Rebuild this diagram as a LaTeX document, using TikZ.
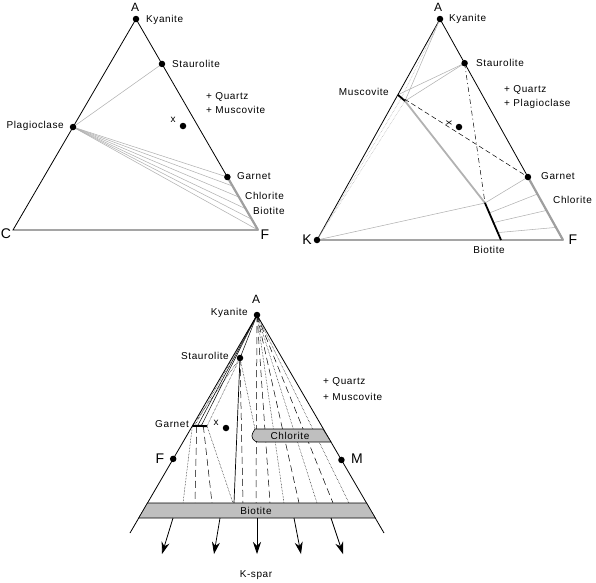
\documentclass[tikz,border=0pt]{standalone}
\usepackage{fontspec}
\setmainfont{Liberation Sans}[LetterSpace=6]
\usetikzlibrary{arrows.meta, calc}

\begin{document}
\begin{tikzpicture}[
  x=1pt, y=-1pt,
  font=\fontsize{10}{11}\selectfont,
  edgeLine/.style={draw, line width=0.8pt},
  tieLine/.style={draw, gray!60, line width=0.55pt},
  fanLine/.style={draw, line width=0.5pt},
  longDash/.style={dash pattern=on 7pt off 4pt},
  thickGray/.style={draw, gray!75, line width=2.2pt},
  thickBlack/.style={draw, line width=1.8pt},
  phaseDot/.style={circle, fill, inner sep=0pt, minimum size=6.5pt},
  cornerLabel/.style={font=\fontsize{14}{14}\selectfont, inner sep=1pt},
  mineralLabel/.style={inner sep=1pt},
  bandBox/.style={draw, fill=gray!50, line width=0.6pt},
  ksparArrow/.style={draw, line width=0.8pt, -{Stealth[length=12pt, width=8pt]}}
]
  \useasboundingbox (0,0) rectangle (596,582);

  % --- triangle A C F
  \coordinate (kya1) at (136,19);
  \coordinate (c1) at (13,230);
  \coordinate (f1) at (258,230);
  \coordinate (sta1) at ($(kya1)!0.213!(f1)$);
  \coordinate (pla1) at ($(kya1)!0.512!(c1)$);
  \coordinate (gar1) at ($(kya1)!0.749!(f1)$);
  \coordinate (x1) at (183,126);

  \draw [edgeLine] (kya1) -- (c1) -- (f1) -- cycle;
  \draw [tieLine] (pla1) -- (sta1);
  \foreach \t in {0, 0.17, 0.38, 0.6, 0.8, 1}
    \draw [tieLine] (pla1) -- ($(gar1)!\t!(f1)$);
  \draw [thickGray] (gar1) -- (f1);

  \foreach \p in {kya1, sta1, pla1, gar1, x1}
    \node [phaseDot] (\p dot) at (\p) {};

  \node [font=\fontsize{12}{12}\selectfont] (lblA1) at (135,7) {A};
  \node [cornerLabel] (lblC1) at (6,234) {C};
  \node [cornerLabel] (lblF1) at (265,235) {F};
  \node [mineralLabel, anchor=west] (lblKya1) at (145,20) {Kyanite};
  \node [mineralLabel, anchor=west] (lblSta1) at (171,64) {Staurolite};
  \node [mineralLabel, anchor=west] (lblQtz1) at (205,97) {+ Quartz};
  \node [mineralLabel, anchor=west] (lblMus1) at (205,110) {+ Muscovite};
  \node [mineralLabel, anchor=east] (lblPla1) at (65,126) {Plagioclase};
  \node [mineralLabel] (lblX1) at (173,120) {x};
  \node [mineralLabel, anchor=west] (lblGar1) at (236,176) {Garnet};
  \node [mineralLabel, anchor=west] (lblChl1) at (244,196) {Chlorite};
  \node [mineralLabel, anchor=west] (lblBio1) at (252,211) {Biotite};

  % --- triangle A K F
  \coordinate (kya2) at (440,19);
  \coordinate (k2) at (317,240);
  \coordinate (f2) at (563,240);
  \coordinate (sta2) at ($(kya2)!0.2!(f2)$);
  \coordinate (gar2) at ($(kya2)!0.715!(f2)$);
  \coordinate (mus2) at ($(kya2)!0.343!(k2)$);
  \coordinate (musB2) at (405,101);
  \coordinate (bioT2) at (485,203);
  \coordinate (bioB2) at (501,240);
  \coordinate (x2) at (459,127);

  \draw [edgeLine] (kya2) -- (k2) -- (f2) -- cycle;
  \draw [tieLine] (kya2) -- (musB2);
  \draw [tieLine, densely dotted] (kya2) -- ($(mus2)!0.5!(musB2)$);
  \draw [tieLine, densely dotted] (musB2) -- (k2);
  \draw [tieLine, densely dotted] ($(mus2)!0.5!(musB2)$) -- (k2);
  \draw [tieLine] (mus2) -- (sta2);
  \draw [tieLine] (musB2) -- (sta2);
  \draw [tieLine] (k2) -- (bioT2);
  \foreach \t in {0, 0.27, 0.53, 0.8}
    \draw [tieLine] ($(bioT2)!\t!(bioB2)$) -- ($(gar2)!\t!(f2)$);
  \draw [thickGray, gray!60, line width=1.8pt] (musB2) -- (bioT2);
  \draw [thickBlack] (mus2) -- (musB2);
  \draw [thickBlack] (bioT2) -- (bioB2);
  \draw [thickGray] (gar2) -- (f2);
  \draw [fanLine, dash pattern=on 5pt off 3pt] (mus2) -- (gar2);
  \draw [fanLine, dash pattern=on 5pt off 3pt on 1pt off 3pt] (sta2) -- (bioT2);

  \foreach \p in {kya2, sta2, gar2, x2, k2}
    \node [phaseDot] (\p dot) at (\p) {};

  \node [font=\fontsize{12}{12}\selectfont] (lblA2) at (438,7) {A};
  \node [cornerLabel] (lblK2) at (307,240) {K};
  \node [cornerLabel] (lblF2) at (573,240) {F};
  \node [mineralLabel, anchor=west] (lblKya2) at (448,19) {Kyanite};
  \node [mineralLabel, anchor=west] (lblSta2) at (475,63) {Staurolite};
  \node [mineralLabel, anchor=west] (lblQtz2) at (503,90) {+ Quartz};
  \node [mineralLabel, anchor=west] (lblPla2) at (503,104) {+ Plagioclase};
  \node [mineralLabel, anchor=east] (lblMus2) at (390,92) {Muscovite};
  \node [mineralLabel, rotate=-90] (lblX2) at (449,123) {x};
  \node [mineralLabel, anchor=west] (lblGar2) at (540,176) {Garnet};
  \node [mineralLabel, anchor=west] (lblChl2) at (552,200) {Chlorite};
  \node [mineralLabel] (lblBio2) at (489,250) {Biotite};

  % --- projection from K-spar
  \coordinate (kya3) at (257,315);
  \coordinate (botL3) at (130,533);
  \coordinate (botR3) at (384,533);
  \coordinate (f3) at ($(kya3)!0.66!(botL3)$);
  \coordinate (m3) at ($(kya3)!0.665!(botR3)$);
  \coordinate (sta3) at (240,358);
  \coordinate (garL3) at ($(kya3)!0.509!(botL3)$);
  \coordinate (garR3) at (207,426);
  \coordinate (x3) at (226,428);

  \draw [edgeLine] (botL3) -- (kya3) -- (botR3);
  \foreach \xe/\sty [count=\i] in {256/longDash, 270/longDash, 284/densely dotted,
      299/longDash, 317/densely dotted, 333/longDash, 349/densely dotted} {
    \coordinate (fanEnd\i) at (\xe,503);
    \draw [fanLine, \sty] (kya3) -- (fanEnd\i);
  }
  \draw [fanLine] (kya3) -- ($(garL3)!0.35!(garR3)$);
  \draw [fanLine] (kya3) -- ($(garL3)!0.6!(garR3)$);
  \draw [fanLine, densely dotted] (kya3) -- ($(garL3)!0.15!(garR3)$);
  \draw [fanLine] (kya3) -- (sta3);
  \draw [fanLine, densely dotted] (sta3) -- (garL3);
  \draw [fanLine, densely dotted] (sta3) -- (garR3);
  \coordinate (staEndA) at (234,503);
  \coordinate (staEndB) at (243,503);
  \coordinate (chlTL) at (255,429);
  \draw [fanLine, line width=0.7pt] (sta3) -- (staEndA);
  \draw [fanLine, longDash] (sta3) -- (staEndB);
  \draw [fanLine, densely dotted] (sta3) -- (chlTL);
  \foreach \s/\xe/\sty [count=\i] in {0/183/densely dotted, 0.3/195/longDash,
      0.75/212/longDash, 1/233/densely dotted} {
    \coordinate (garEnd\i) at (\xe,503);
    \draw [fanLine, \sty] ($(garL3)!\s!(garR3)$) -- (garEnd\i);
  }
  \draw [line width=2pt] (garL3) -- (garR3);

  \draw [bandBox] (323,429) -- (chlTL) [rounded corners=3pt] -- (251,436)
    -- (255,442) [sharp corners] -- (331,442) -- cycle;
  \node (lblChl3) at (290,436) {Chlorite};
  \draw [bandBox] (147.5,503) -- (366.5,503) -- (375.3,518) -- (138.7,518) -- cycle;
  \node (lblBio3) at (256,511) {Biotite};

  \foreach \xs/\xe [count=\i] in {173/162, 220/214, 257/257, 294/301, 331/343} {
    \coordinate (arS\i) at (\xs,518);
    \coordinate (arE\i) at (\xe,554);
    \draw [ksparArrow] (arS\i) -- (arE\i);
  }

  \foreach \p in {kya3, sta3, f3, m3, x3}
    \node [phaseDot] (\p dot) at (\p) {};

  \node [font=\fontsize{12}{12}\selectfont] (lblA3) at (256,299) {A};
  \node [cornerLabel] (lblF3) at (160,459) {F};
  \node [cornerLabel] (lblM3) at (357,459) {M};
  \node [mineralLabel, anchor=east] (lblKya3) at (249,313) {Kyanite};
  \node [mineralLabel, anchor=east] (lblSta3) at (230,356) {Staurolite};
  \node [mineralLabel, anchor=east] (lblGar3) at (190,424) {Garnet};
  \node [mineralLabel] (lblX3) at (216,423) {x};
  \node [mineralLabel, anchor=west] (lblQtz3) at (322,382) {+ Quartz};
  \node [mineralLabel, anchor=west] (lblMus3) at (322,397) {+ Muscovite};
  \node (lblKsp3) at (256,575) {K-spar};
\end{tikzpicture}
\end{document}
